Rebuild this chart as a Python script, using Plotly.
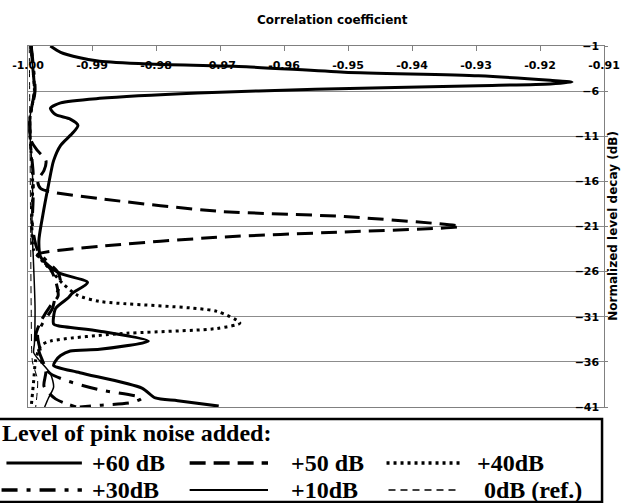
import plotly.graph_objects as go

# ---------------- data (correlation coefficient vs normalized level decay) ----------------
decay_60 = [-1.0, -1.7, -2.3, -2.7, -3.0, -3.3, -3.9, -4.3, -4.8, -5.0, -5.2, -5.4, -5.8, -6.2,
            -6.8, -7.3, -7.9, -8.6, -9.1, -9.8, -10.7, -12.0, -13.7, -16.4, -19.8, -22.6, -24.4,
            -26.1, -27.2, -28.4, -28.9, -30.1, -31.8, -32.0, -32.6, -33.7, -34.6, -34.8, -35.3,
            -35.9, -36.4, -37.2, -38.9, -40.0, -40.3, -40.9]
corr_60 = [-0.9965, -0.9949, -0.9919, -0.9888, -0.9812, -0.9659, -0.9506, -0.9296, -0.9184, -0.9150,
           -0.9184, -0.9296, -0.9551, -0.9735, -0.9888, -0.9949, -0.9965, -0.9957, -0.9934, -0.9922,
           -0.9931, -0.9949, -0.9960, -0.9968, -0.9977, -0.9983, -0.9980, -0.9953, -0.9907, -0.9931,
           -0.9937, -0.9957, -0.9960, -0.9953, -0.9888, -0.9812, -0.9888, -0.9934, -0.9949, -0.9957,
           -0.9960, -0.9919, -0.9822, -0.9801, -0.9766, -0.9702]

decay_50 = [-1.0, -3.0, -6.0, -9.0, -11.5, -12.6, -13.7, -14.8, -15.9, -16.8, -17.9, -19.3, -19.9,
            -21.0, -21.6, -22.2, -23.2, -24.1, -24.6, -25.7, -27.0, -28.7, -29.8, -31.5, -33.1,
            -34.8, -37.0, -38.7, -40.1, -41.0]
corr_50 = [-0.9995, -0.9993, -0.9990, -0.9997, -0.9995, -0.9985, -0.9972, -0.9975, -0.9985, -0.9980,
           -0.9888, -0.9705, -0.9506, -0.9325, -0.9506, -0.9705, -0.9888, -0.9985, -0.9980, -0.9965,
           -0.9957, -0.9953, -0.9965, -0.9980, -0.9988, -0.9983, -0.9972, -0.9975, -0.9957, -0.9925]

decay_40 = [-1.0, -3.0, -6.0, -9.0, -12.0, -15.0, -18.0, -21.0, -23.6, -25.8, -27.3, -28.6, -29.3,
            -30.4, -31.7, -32.3, -32.9, -33.7, -34.2, -35.8, -38.0, -41.0]
corr_40 = [-0.9995, -0.9993, -0.9990, -0.9997, -0.9996, -0.9993, -0.9993, -0.9994, -0.9991, -0.9965,
           -0.9946, -0.9923, -0.9888, -0.9705, -0.9669, -0.9705, -0.9862, -0.9965, -0.9980, -0.9988,
           -0.9991, -0.9995]

decay_30 = [-1.0, -3.0, -6.0, -9.0, -12.0, -15.0, -18.0, -21.0, -23.6, -25.0, -26.1, -27.3, -28.7,
            -30.1, -31.7, -33.0, -35.0, -36.4, -37.3, -38.1, -39.1, -40.0, -40.5, -40.8, -41.0]
corr_30 = [-0.9995, -0.9992, -0.9989, -0.9997, -0.9996, -0.9992, -0.9992, -0.9993, -0.9985, -0.9968,
           -0.9953, -0.9949, -0.9957, -0.9962, -0.9977, -0.9985, -0.9980, -0.9977, -0.9965, -0.9939,
           -0.9888, -0.9822, -0.9837, -0.9888, -0.9919]

decay_10 = [-1.0, -3.0, -6.0, -9.0, -12.0, -15.0, -18.0, -21.0, -24.0, -30.0, -34.0, -35.0, -37.3,
            -38.8, -40.0, -41.0]
corr_10 = [-0.9995, -0.9993, -0.9990, -0.9997, -0.9996, -0.9993, -0.9993, -0.9994, -0.9992, -0.9989,
           -0.9990, -0.9991, -0.9965, -0.9960, -0.9968, -0.9974]

decay_0 = [-1.0, -10.0, -20.0, -30.0, -36.0, -38.0, -41.0]
corr_0 = [-0.9998, -0.9997, -0.9996, -0.9995, -0.9993, -0.9985, -0.9988]

series_names = ["+60 dB", "+50 dB", "+40dB", "+30dB", "+10dB", "0dB (ref.)"]
series_x = [corr_60, corr_50, corr_40, corr_30, corr_10, corr_0]
series_y = [decay_60, decay_50, decay_40, decay_30, decay_10, decay_0]
series_width = [3, 3, 3, 3, 1.5, 1]
series_dash = ["solid", "16px,8px", "3px,4px", "16px,9px,4px,9px", "solid", "7px,5px"]
legend_width = [3, 3.5, 3.5, 3.5, 2, 1.5]

x_ticks = [-1.00, -0.99, -0.98, -0.97, -0.96, -0.95, -0.94, -0.93, -0.92, -0.91]
x_ticktext = ["-1.00", "-0.99", "-0.98", "-0.97", "-0.96", "-0.95", "-0.94", "-0.93", "-0.92", "-0.91"]
y_ticks = [-1, -6, -11, -16, -21, -26, -31, -36, -41]

x_title = "Correlation coefficient"
y_title = "Normalized level decay (dB)"
legend_title = "Level of pink noise added:"

# ---------------- figure ----------------
W, H = 632, 503
L, R, T, B = 27, 17, 46, 96
PW, PH = W - L - R, H - T - B


def px(xp):
    return (xp - L) / PW


def py(yp):
    return (H - B - yp) / PH


fig = go.Figure()
for name, xs, ys, w, d in zip(series_names, series_x, series_y, series_width, series_dash):
    fig.add_trace(go.Scatter(
        x=xs, y=ys, mode="lines", name=name, showlegend=False,
        line=dict(color="black", width=w, dash=d, shape="spline", smoothing=0.7),
    ))

axfont = dict(family="DejaVu Sans, Arial", size=11, color="black", weight="bold")
titlefont = dict(family="DejaVu Sans, Arial", size=12, color="black", weight="bold")

fig.update_layout(
    width=W, height=H,
    margin=dict(l=L, r=R, t=T, b=B, pad=0),
    paper_bgcolor="white", plot_bgcolor="white",
    showlegend=False,
    xaxis=dict(
        side="top", range=[-1.0, -0.91], tickvals=x_ticks, ticktext=x_ticktext,
        ticks="inside", ticklen=5, tickcolor="#808080", tickwidth=1,
        showline=True, mirror=True, linecolor="#808080", linewidth=1,
        showgrid=False, zeroline=False,
        ticklabelposition="inside", ticklabeloverflow="allow", ticklabelstandoff=10,
        tickfont=axfont,
    ),
    yaxis=dict(
        side="right", range=[-41, -1], tickvals=y_ticks,
        ticks="outside", ticklen=3, tickcolor="#808080", tickwidth=1,
        showline=True, mirror=True, linecolor="#808080", linewidth=1,
        showgrid=True, gridcolor="#8c8c8c", gridwidth=1, zeroline=False,
        ticklabelposition="inside", ticklabeloverflow="allow", ticklabelstandoff=4,
        tickfont=axfont,
    ),
)

annotations = [
    dict(text=x_title, x=px(338), y=py(20), xref="paper", yref="paper",
         showarrow=False, xanchor="center", yanchor="middle", font=titlefont),
    dict(text=y_title, x=px(624), y=py(226), xref="paper", yref="paper", textangle=-90,
         showarrow=False, xanchor="center", yanchor="middle", font=titlefont),
]

shapes = [
    dict(type="rect", xref="paper", yref="paper", x0=px(-5), x1=px(613), y0=py(502), y1=py(419),
         line=dict(color="black", width=2.5), fillcolor="white", layer="above"),
]

legfont = dict(family="Liberation Serif, Times New Roman", size=24, color="black", weight="bold")
annotations.append(dict(text=legend_title, x=px(-2), y=py(433), xref="paper", yref="paper",
                        showarrow=False, xanchor="left", yanchor="middle", font=legfont))

# legend entries: per row, per column (sample start, sample end, text start)
legend_cols = [
    [(5, 82, 90), (192, 272, 293), (393, 468, 483)],
    [(0, 82, 90), (192, 272, 293), (395, 468, 490)],
]
row_y = [463, 490]
for k in range(len(series_names)):
    r, c = divmod(k, 3)
    s0, s1, t0 = legend_cols[r][c]
    yy = row_y[r]
    shapes.append(dict(type="line", xref="paper", yref="paper", x0=px(s0), x1=px(s1),
                       y0=py(yy), y1=py(yy),
                       line=dict(color="black", width=legend_width[k], dash=series_dash[k])))
    annotations.append(dict(text=series_names[k], x=px(t0), y=py(yy), xref="paper", yref="paper",
                            showarrow=False, xanchor="left", yanchor="middle", font=legfont))

fig.update_layout(annotations=annotations, shapes=shapes)
fig.write_html("out.html")
